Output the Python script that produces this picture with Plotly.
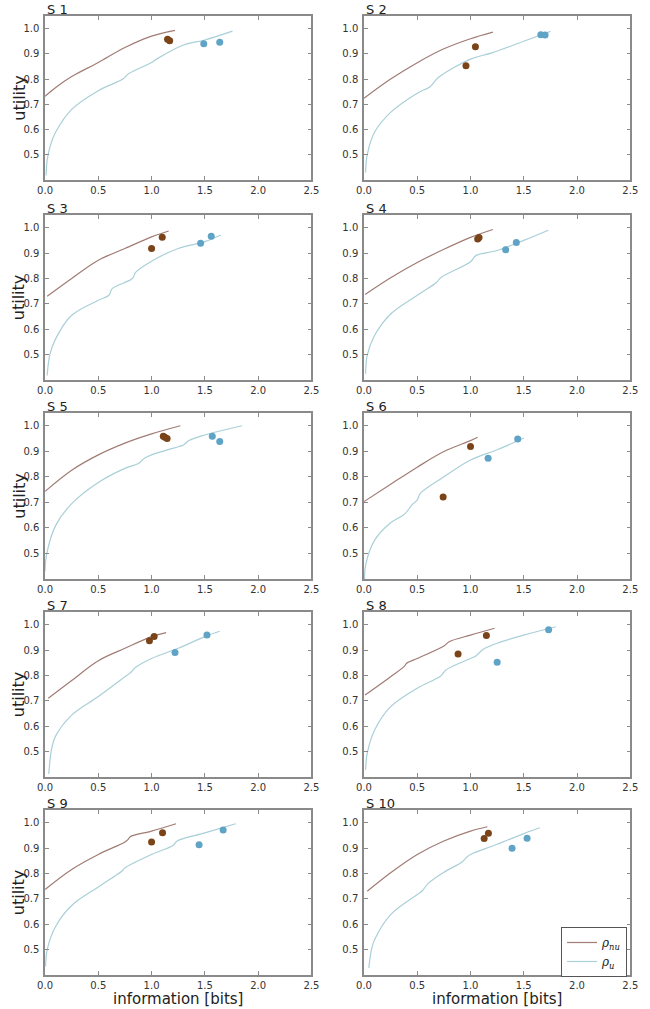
import plotly.graph_objects as go

# panel titles
TITLES = ["S 1", "S 2", "S 3", "S 4", "S 5", "S 6", "S 7", "S 8", "S 9", "S 10"]

# rho_nu curve (brown) per panel
NU_X = [
    [0, 0.1, 0.25, 0.5, 0.75, 1.0, 1.22],
    [0, 0.25, 0.5, 0.75, 1.0, 1.21],
    [0.02, 0.25, 0.5, 0.75, 1.0, 1.16],
    [0.01, 0.25, 0.5, 0.75, 1.0, 1.21],
    [0, 0.25, 0.5, 0.75, 1.0, 1.27],
    [0, 0.25, 0.5, 0.75, 1.0, 1.067],
    [0.03, 0.25, 0.5, 0.75, 1.0, 1.137],
    [0.01, 0.25, 0.38, 0.4, 0.5, 0.75, 0.8, 1.0, 1.226],
    [0, 0.25, 0.5, 0.75, 0.78, 0.8, 1.0, 1.23],
    [0.03, 0.25, 0.5, 0.75, 1.0, 1.158],
]
NU_Y = [
    [0.732, 0.767, 0.81, 0.866, 0.925, 0.97, 0.993],
    [0.724, 0.80, 0.865, 0.92, 0.96, 0.986],
    [0.73, 0.80, 0.872, 0.918, 0.964, 0.987],
    [0.737, 0.803, 0.863, 0.915, 0.962, 0.993],
    [0.743, 0.826, 0.886, 0.932, 0.968, 1.0],
    [0.703, 0.771, 0.838, 0.899, 0.942, 0.955],
    [0.71, 0.78, 0.858, 0.907, 0.953, 0.969],
    [0.723, 0.795, 0.837, 0.848, 0.867, 0.916, 0.933, 0.959, 0.986],
    [0.737, 0.816, 0.875, 0.924, 0.934, 0.945, 0.967, 0.996],
    [0.73, 0.803, 0.875, 0.928, 0.967, 0.984],
]

# rho_u curve (light blue) per panel
U_X = [
    [0.01, 0.02, 0.05, 0.1, 0.25, 0.5, 0.73, 0.78, 1.0, 1.05, 1.3, 1.5, 1.76],
    [0.015, 0.03, 0.1, 0.25, 0.5, 0.62, 0.7, 1.0, 1.2, 1.5, 1.75],
    [0.02, 0.045, 0.1, 0.25, 0.5, 0.6, 0.63, 0.82, 0.85, 1.0, 1.25, 1.5, 1.65],
    [0.015, 0.03, 0.1, 0.25, 0.5, 0.68, 0.72, 1.0, 1.05, 1.25, 1.5, 1.73],
    [0.0, 0.015, 0.1, 0.25, 0.5, 0.75, 0.88, 0.93, 1.0, 1.25, 1.3, 1.35, 1.5, 1.85],
    [0.005, 0.015, 0.1, 0.25, 0.38, 0.45, 0.5, 0.53, 0.75, 1.0, 1.25, 1.5],
    [0.035, 0.06, 0.1, 0.25, 0.5, 0.75, 0.8, 0.85, 1.0, 1.25, 1.5, 1.64],
    [0.015, 0.03, 0.1, 0.25, 0.5, 0.72, 0.77, 1.0, 1.05, 1.12, 1.25, 1.5, 1.8],
    [0.005, 0.02, 0.1, 0.25, 0.5, 0.72, 0.75, 1.0, 1.2, 1.24, 1.5, 1.79],
    [0.045, 0.07, 0.1, 0.25, 0.5, 0.55, 0.6, 0.75, 0.92, 0.97, 1.0, 1.25, 1.5, 1.65],
]
U_Y = [
    [0.418, 0.48, 0.537, 0.59, 0.68, 0.754, 0.80, 0.82, 0.866, 0.88, 0.935, 0.955, 0.99],
    [0.43, 0.5, 0.59, 0.668, 0.744, 0.77, 0.807, 0.879, 0.904, 0.95, 0.989],
    [0.418, 0.50, 0.563, 0.655, 0.714, 0.734, 0.76, 0.80, 0.824, 0.868, 0.918, 0.945, 0.971],
    [0.425, 0.497, 0.576, 0.66, 0.734, 0.784, 0.803, 0.866, 0.89, 0.91, 0.95, 0.99],
    [0.43, 0.497, 0.61, 0.695, 0.778, 0.833, 0.853, 0.872, 0.886, 0.918, 0.925, 0.942, 0.964, 1.0],
    [0.40, 0.454, 0.552, 0.62, 0.654, 0.69, 0.71, 0.736, 0.80, 0.866, 0.906, 0.952],
    [0.412, 0.507, 0.562, 0.644, 0.717, 0.795, 0.81, 0.832, 0.867, 0.907, 0.953, 0.974],
    [0.428, 0.493, 0.585, 0.677, 0.75, 0.798, 0.822, 0.867, 0.877, 0.903, 0.927, 0.959, 0.992],
    [0.434, 0.50, 0.592, 0.674, 0.747, 0.809, 0.822, 0.875, 0.91, 0.928, 0.96, 0.996],
    [0.428, 0.50, 0.54, 0.638, 0.717, 0.733, 0.76, 0.805, 0.845, 0.866, 0.875, 0.915, 0.957, 0.98],
]

# measured points
DOT_NU_X = [[1.15, 1.17], [0.957, 1.046], [1.0, 1.10], [1.067, 1.08], [1.11, 1.125, 1.146],
            [0.743, 1.0], [0.98, 1.024], [0.883, 1.149], [1.0, 1.103], [1.128, 1.168]]
DOT_NU_Y = [[0.958, 0.952], [0.853, 0.928], [0.918, 0.962], [0.955, 0.961], [0.959, 0.955, 0.95],
            [0.721, 0.919], [0.937, 0.953], [0.885, 0.957], [0.924, 0.96], [0.938, 0.958]]
DOT_U_X = [[1.49, 1.64], [1.66, 1.70], [1.46, 1.56], [1.33, 1.43], [1.57, 1.64],
           [1.165, 1.443], [1.22, 1.52], [1.25, 1.733], [1.446, 1.672], [1.39, 1.531]]
DOT_U_Y = [[0.94, 0.946], [0.976, 0.975], [0.939, 0.966], [0.913, 0.942], [0.959, 0.938],
           [0.873, 0.948], [0.89, 0.959], [0.852, 0.98], [0.913, 0.971], [0.899, 0.939]]

W, H = 650, 1009
COL_X = [(38, 311), (365, 638)]
ROW_Y = [(16, 180), (215, 380), (413, 579), (612, 777), (810, 975)]

BROWN_LINE = '#a07c74'
BLUE_LINE = '#a9cfd8'
BROWN_DOT = '#7a4418'
BLUE_DOT = '#5fa3c6'
FRAME = '#8a8a8a'

fig = go.Figure()
annotations = []

for i in range(10):
    row, col = divmod(i, 2)
    n = i + 1
    xa = 'x' if n == 1 else f'x{n}'
    ya = 'y' if n == 1 else f'y{n}'

    fig.add_trace(go.Scatter(x=NU_X[i], y=NU_Y[i], mode='lines', xaxis=xa, yaxis=ya,
                             line=dict(color=BROWN_LINE, width=1.2, shape='spline', smoothing=1.0),
                             name='<i>ρ<sub>nu</sub></i>', showlegend=(i == 9)))
    fig.add_trace(go.Scatter(x=U_X[i], y=U_Y[i], mode='lines', xaxis=xa, yaxis=ya,
                             line=dict(color=BLUE_LINE, width=1.2, shape='spline', smoothing=1.0),
                             name='<i>ρ<sub>u</sub></i>', showlegend=(i == 9)))
    fig.add_trace(go.Scatter(x=DOT_NU_X[i], y=DOT_NU_Y[i], mode='markers', xaxis=xa, yaxis=ya,
                             marker=dict(color=BROWN_DOT, size=7), showlegend=False))
    fig.add_trace(go.Scatter(x=DOT_U_X[i], y=DOT_U_Y[i], mode='markers', xaxis=xa, yaxis=ya,
                             marker=dict(color=BLUE_DOT, size=7), showlegend=False))

    x0, x1 = COL_X[col]
    top, bot = ROW_Y[row]
    dom_x = [x0 / W, x1 / W]
    dom_y = [1 - bot / H, 1 - top / H]

    axis_common = dict(showline=True, mirror='ticks', linecolor=FRAME, linewidth=1.5,
                       ticks='inside', ticklen=4, tickcolor=FRAME, showgrid=False,
                       zeroline=False, tickfont=dict(size=10, color='#333'))
    xkey = 'xaxis' if n == 1 else f'xaxis{n}'
    ykey = 'yaxis' if n == 1 else f'yaxis{n}'
    xaxis = dict(domain=dom_x, range=[0, 2.5], tickvals=[0, 0.5, 1.0, 1.5, 2.0, 2.5],
                 tickformat='.1f', anchor=ya, ticklabelstandoff=0, **axis_common)
    yaxis = dict(domain=dom_y, range=[0.4, 1.05], tickvals=[0.5, 0.6, 0.7, 0.8, 0.9, 1.0],
                 tickformat='.1f', anchor=xa, ticklabelstandoff=2, **axis_common)
    fig.update_layout({xkey: xaxis, ykey: yaxis})

    if row == 4:
        annotations.append(dict(text='information [bits]', xref='paper', yref='paper',
                                x=(dom_x[0] + dom_x[1]) / 2, y=1 - 999 / H,
                                xanchor='center', yanchor='middle', showarrow=False,
                                font=dict(size=15, color='#222')))
    if col == 0:
        annotations.append(dict(text='utility', xref='paper', yref='paper',
                                x=11 / W, y=(dom_y[0] + dom_y[1]) / 2, textangle=-90,
                                xanchor='center', yanchor='middle', showarrow=False,
                                font=dict(size=16, color='#222')))

    annotations.append(dict(text=TITLES[i], xref='paper', yref='paper', x=dom_x[0], y=dom_y[1],
                            xanchor='left', yanchor='bottom', yshift=-3, showarrow=False,
                            font=dict(size=13, color='#222')))

fig.update_layout(
    width=W, height=H,
    margin=dict(l=0, r=0, t=0, b=0),
    paper_bgcolor='white', plot_bgcolor='white',
    font=dict(family='DejaVu Sans'),
    annotations=annotations,
    legend=dict(x=567 / W, y=1 - 927 / H, xanchor='left', yanchor='top',
                bgcolor='white', bordercolor='#555', borderwidth=1,
                font=dict(size=12, color='#222', family='DejaVu Serif')),
)

# page body margin would otherwise shift the figure and add scrollbars
fig.write_html("out.html", config={'displayModeBar': False},
               post_script="document.body.style.margin='0';document.body.style.overflow='hidden';")
